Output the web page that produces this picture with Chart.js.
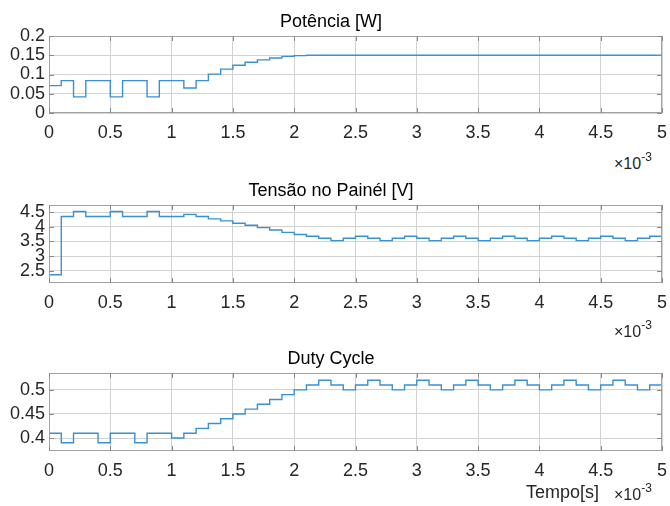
<!DOCTYPE html>
<html>
<head>
<meta charset="utf-8">
<script src="https://cdn.jsdelivr.net/npm/chart.js@4.4.1/dist/chart.umd.min.js"></script>
<style>
  body { margin: 0; background: #fff; }
  #wrap { position: relative; width: 670px; height: 506px; overflow: hidden; font-family: "Liberation Sans", Arial, sans-serif; color: #262626; }
  canvas { position: absolute; left: 0; }
  .exp { position: absolute; font-size: 16px; white-space: nowrap; }
  .exp sup { font-size: 12px; position: relative; top: -2px; }
  .xlab { position: absolute; font-size: 18px; white-space: nowrap; }
</style>
</head>
<body>
<div id="wrap">
  <canvas id="c1" width="670" height="137" style="top:8px"></canvas>
  <canvas id="c2" width="670" height="138" style="top:177px"></canvas>
  <canvas id="c3" width="670" height="138" style="top:345px"></canvas>
  <div class="exp" style="left:614px; top:152px">×10<sup>-3</sup></div>
  <div class="exp" style="left:614px; top:320px">×10<sup>-3</sup></div>
  <div class="xlab" style="left:526px; top:482px">Tempo[s]</div>
  <div class="exp" style="left:614px; top:483px">×10<sup>-3</sup></div>
</div>
<script>
// time axis in ms (plotted as 0..5, shown with the x10^-3 note)
var timeMs = [0, 0.1, 0.2, 0.3, 0.4, 0.5, 0.6, 0.7, 0.8, 0.9,
  1.0, 1.1, 1.2, 1.3, 1.4, 1.5, 1.6, 1.7, 1.8, 1.9,
  2.0, 2.1, 2.2, 2.3, 2.4, 2.5, 2.6, 2.7, 2.8, 2.9,
  3.0, 3.1, 3.2, 3.3, 3.4, 3.5, 3.6, 3.7, 3.8, 3.9,
  4.0, 4.1, 4.2, 4.3, 4.4, 4.5, 4.6, 4.7, 4.8, 4.9, 5.0];

// Potência [W]
var potencia = [0.071, 0.084, 0.042, 0.084, 0.084, 0.042, 0.084, 0.084, 0.042, 0.084,
  0.084, 0.065, 0.084, 0.101, 0.114, 0.124, 0.132, 0.138, 0.143, 0.147,
  0.149, 0.150, 0.150, 0.150, 0.150, 0.150, 0.150, 0.150, 0.150, 0.150,
  0.150, 0.150, 0.150, 0.150, 0.150, 0.150, 0.150, 0.150, 0.150, 0.150,
  0.150, 0.150, 0.150, 0.150, 0.150, 0.150, 0.150, 0.150, 0.150, 0.150, 0.150];

// Tensão no Painél [V]
var tensao = [2.37, 4.35, 4.52, 4.35, 4.35, 4.52, 4.35, 4.35, 4.52, 4.35,
  4.35, 4.42, 4.35, 4.27, 4.20, 4.12, 4.05, 3.97, 3.89, 3.81,
  3.74, 3.68, 3.61, 3.53, 3.61, 3.68, 3.61, 3.53, 3.61, 3.68,
  3.61, 3.53, 3.61, 3.68, 3.61, 3.53, 3.61, 3.68, 3.61, 3.53,
  3.61, 3.68, 3.61, 3.53, 3.61, 3.68, 3.61, 3.53, 3.61, 3.68, 3.68];

// Duty Cycle
var duty = [0.41, 0.39, 0.41, 0.41, 0.39, 0.41, 0.41, 0.39, 0.41, 0.41,
  0.40, 0.41, 0.42, 0.43, 0.44, 0.45, 0.46, 0.47, 0.48, 0.49,
  0.50, 0.51, 0.52, 0.51, 0.50, 0.51, 0.52, 0.51, 0.50, 0.51,
  0.52, 0.51, 0.50, 0.51, 0.52, 0.51, 0.50, 0.51, 0.52, 0.51,
  0.50, 0.51, 0.52, 0.51, 0.50, 0.51, 0.52, 0.51, 0.50, 0.51, 0.51];

var FONT = "'Liberation Sans', Arial, sans-serif";
var LINE = "#3b8fd4";
var GRID = "#d2d2d2";
var BOX = "#a3a3a3";

// matlab style tick text: 0.2 not 0.20, 5 not 5.0
function shortNum(v) {
  return String(parseFloat(Number(v).toFixed(3)));
}

// box round the plot area plus the small inner ticks
var boxPlugin = {
  id: "box",
  afterDraw: function(chart) {
    var a = chart.chartArea, ctx = chart.ctx;
    var xs = chart.scales.x, ys = chart.scales.y;
    ctx.save();
    ctx.strokeStyle = BOX;
    ctx.lineWidth = 1;
    ctx.strokeRect(a.left + 0.5, a.top + 0.5, a.right - a.left - 1, a.bottom - a.top - 1);
    ctx.strokeStyle = "#8a8a8a";
    ctx.beginPath();
    xs.ticks.forEach(function(t) {
      var px = Math.round(xs.getPixelForValue(t.value)) + 0.5;
      ctx.moveTo(px, a.bottom); ctx.lineTo(px, a.bottom - 5);
      ctx.moveTo(px, a.top); ctx.lineTo(px, a.top + 5);
    });
    ys.ticks.forEach(function(t) {
      var py = Math.round(ys.getPixelForValue(t.value)) + 0.5;
      ctx.moveTo(a.left, py); ctx.lineTo(a.left + 5, py);
      ctx.moveTo(a.right, py); ctx.lineTo(a.right - 5, py);
    });
    ctx.stroke();
    ctx.restore();
  }
};

function makePanel(id, title, values, yMin, yMax, yStep) {
  var points = timeMs.map(function(t, i) { return { x: t, y: values[i] }; });
  return new Chart(document.getElementById(id), {
    type: "line",
    data: {
      datasets: [{
        data: points,
        borderColor: LINE,
        borderWidth: 1.4,
        pointRadius: 0,
        stepped: true,
        fill: false
      }]
    },
    options: {
      responsive: false,
      animation: false,
      devicePixelRatio: 1,
      layout: { padding: { left: 0, right: 8, top: 0, bottom: 0 } },
      plugins: {
        legend: { display: false },
        tooltip: { enabled: false },
        title: {
          display: true,
          text: title,
          color: "#000",
          font: { family: FONT, size: 18, weight: "normal" },
          padding: { top: 3, bottom: 3.4 }
        }
      },
      scales: {
        x: {
          type: "linear",
          min: 0,
          max: 5,
          grid: { color: GRID, drawTicks: false },
          border: { display: false },
          ticks: {
            stepSize: 0.5,
            autoSkip: false,
            padding: 9,
            color: "#262626",
            maxRotation: 0,
            font: { family: FONT, size: 18 },
            callback: shortNum
          },
          afterFit: function(s) {
            s.height = 32;
            s.paddingLeft = 0;
            s.paddingRight = 0;
          }
        },
        y: {
          min: yMin,
          max: yMax,
          grid: { color: GRID, drawTicks: false },
          border: { display: false },
          ticks: {
            stepSize: yStep,
            autoSkip: false,
            includeBounds: false,
            padding: 4,
            color: "#262626",
            font: { family: FONT, size: 18 },
            callback: shortNum
          },
          afterFit: function(s) { s.width = 49; }
        }
      }
    },
    plugins: [boxPlugin]
  });
}

makePanel("c1", "Potência [W]", potencia, 0, 0.2, 0.05);
makePanel("c2", "Tensão no Painél [V]", tensao, 2.09, 4.74, 0.5);
makePanel("c3", "Duty Cycle", duty, 0.373, 0.535, 0.05);
</script>
</body>
</html>
